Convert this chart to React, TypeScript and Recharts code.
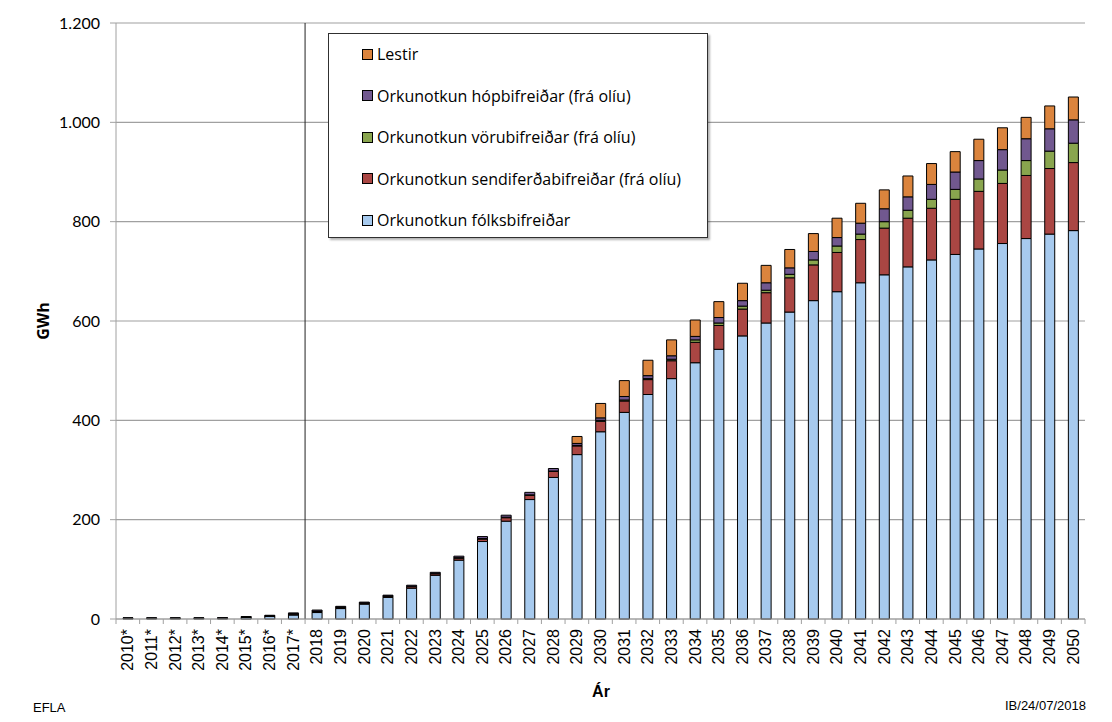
import { BarChart, Bar, XAxis, YAxis, CartesianGrid, ReferenceLine } from 'recharts';

// Ár (years); the starred ones are historical
const years = [
  '2010*', '2011*', '2012*', '2013*', '2014*', '2015*', '2016*', '2017*',
  '2018', '2019', '2020', '2021', '2022', '2023', '2024', '2025', '2026', '2027', '2028', '2029',
  '2030', '2031', '2032', '2033', '2034', '2035', '2036', '2037', '2038', '2039', '2040',
  '2041', '2042', '2043', '2044', '2045', '2046', '2047', '2048', '2049', '2050',
];

// GWh per series
const folksbifreidar = [
  1, 1, 1, 1, 1.2, 3, 5, 8,
  13, 21, 30, 43.5, 62, 88, 118.5, 156, 197, 240.5, 285, 331,
  377, 416, 452, 484, 516, 543, 570, 596, 618, 641, 659,
  677, 693, 709, 723, 734, 745, 756, 766, 775, 782,
];
const sendiferdabifreidar = [
  0.5, 0.5, 0.5, 0.5, 0.5, 0.8, 1, 2,
  2, 2, 2, 2.5, 3, 3, 4, 5, 7, 8.5, 12, 17.5,
  21, 23, 30, 36, 41, 48, 54, 61, 69, 72, 79,
  87, 94, 98, 104, 111, 116, 121, 127, 132, 137,
];
const vorubifreidar = [
  0.3, 0.3, 0.3, 0.3, 0.3, 0.4, 0.5, 0.8,
  1, 1, 0.5, 0.5, 1, 1, 1, 1, 1, 1, 1, 1,
  2, 2, 2, 3, 5, 5, 6, 5, 7, 10, 13,
  11, 13, 16, 18, 20, 25, 27, 30, 35, 39,
];
const hopbifreidar = [
  0.5, 0.5, 0.5, 0.5, 0.5, 0.8, 1, 1.5,
  2, 1.5, 1.5, 1.5, 2, 2, 3, 4, 4, 5, 5, 4,
  5, 7, 6, 7, 7, 11, 11, 15, 13, 17, 17,
  22, 26, 27, 30, 35, 37, 41, 44, 45, 47,
];
const lestir = [
  0, 0, 0, 0, 0, 0, 0, 0,
  0, 0, 0, 0, 0, 0, 0, 0, 0, 0, 0, 14,
  29, 32, 31, 32, 33, 32, 35, 35, 37, 36, 39,
  40, 38, 42, 42, 41, 43, 44, 43, 46, 46,
];

const yTicks = [0, 200, 400, 600, 800, 1000, 1200];

// bottom to top
const series = [
  { key: 'folks', name: 'Orkunotkun fólksbifreiðar', color: '#a7caee' },
  { key: 'sendi', name: 'Orkunotkun sendiferðabifreiðar (frá olíu)', color: '#aa4643' },
  { key: 'voru', name: 'Orkunotkun vörubifreiðar (frá olíu)', color: '#89a54e' },
  { key: 'hop', name: 'Orkunotkun hópbifreiðar (frá olíu)', color: '#71588f' },
  { key: 'lestir', name: 'Lestir', color: '#db843d' },
];

const data = years.map((year, i) => ({
  year,
  folks: folksbifreidar[i],
  sendi: sendiferdabifreidar[i],
  voru: vorubifreidar[i],
  hop: hopbifreidar[i],
  lestir: lestir[i],
}));

const fmt = (v: number) => v.toLocaleString('de-DE');

const XTick = (props: any) => {
  const { x, y, payload, index } = props;
  const half = payload.offset || 969 / 41 / 2;
  return (
    <g>
      <line x1={x - half} x2={x - half} y1={y} y2={y + 5} stroke="#a0a0a0" />
      {index === years.length - 1 && (
        <line x1={x + half} x2={x + half} y1={y} y2={y + 5} stroke="#a0a0a0" />
      )}
      <text
        x={x}
        y={y + 10}
        transform={`rotate(-90, ${x}, ${y + 10})`}
        textAnchor="end"
        dominantBaseline="central"
        fontFamily="'Liberation Sans', Arial, sans-serif"
        fontSize={16}
        fill="#000"
      >
        {payload.value}
      </text>
    </g>
  );
};

export default function App() {
  return (
    <div style={{ position: 'relative', margin: -8, width: 1112, height: 722, background: '#fff', overflow: 'hidden' }}>
      <div style={{ position: 'absolute', left: 6, top: 5, width: 1200, height: 800, border: '2px solid #000' }} />
      <BarChart
        width={1112}
        height={722}
        data={data}
        margin={{ top: 23, right: 27, bottom: 0, left: 0 }}
        barSize={10}
        style={{ position: 'absolute', left: 0, top: 0 }}
      >
        <CartesianGrid vertical={false} stroke="#a0a0a0" strokeWidth={1.2} />
        <XAxis
          dataKey="year"
          height={103}
          interval={0}
          tickSize={0}
          tickMargin={0}
          tickLine={false}
          stroke="#a0a0a0"
          tick={<XTick />}
        />
        <YAxis
          width={116}
          domain={[0, 1200]}
          ticks={yTicks}
          tickFormatter={fmt}
          tickSize={6}
          tickMargin={10}
          stroke="#a0a0a0"
          tick={{ fill: '#000', fontSize: 16, fontFamily: 'Lato, sans-serif' }}
        />
        {series.map((s) => (
          <Bar
            key={s.key}
            dataKey={s.key}
            name={s.name}
            stackId="a"
            fill={s.color}
            stroke="#000"
            strokeWidth={1}
            isAnimationActive={false}
          />
        ))}
        <ReferenceLine x="2018" position="start" stroke="#222" strokeWidth={1} />
      </BarChart>

      <div
        style={{
          position: 'absolute', left: 328, top: 33, width: 378, height: 203,
          border: '1px solid #303030', background: '#fff', boxShadow: '2px 2px 2px rgba(0,0,0,0.3)',
          fontFamily: "'Open Sans', sans-serif", fontSize: 16, color: '#000',
        }}
      >
        {[...series].reverse().map((s, i) => (
          <div key={s.key} style={{ position: 'absolute', left: 33, top: 10 + i * 41.5, height: 20, display: 'flex', alignItems: 'center' }}>
            <span style={{ display: 'inline-block', width: 9, height: 9, background: s.color, border: '1px solid #000', marginRight: 4 }} />
            <span>{s.name}</span>
          </div>
        ))}
      </div>

      <div style={{ position: 'absolute', left: 43, top: 321, transform: 'translate(-50%, -50%) rotate(-90deg)', fontFamily: "'Open Sans', sans-serif", fontWeight: 'bold', fontSize: 16 }}>
        GWh
      </div>
      <div style={{ position: 'absolute', left: 601, top: 692, transform: 'translate(-50%, -50%)', fontFamily: "'Liberation Sans', Arial, sans-serif", fontWeight: 'bold', fontSize: 16 }}>
        Ár
      </div>
      <div style={{ position: 'absolute', left: 33, top: 700, fontFamily: "'Liberation Sans', Arial, sans-serif", fontSize: 13 }}>
        EFLA
      </div>
      <div style={{ position: 'absolute', left: 1005, top: 698, fontFamily: "'Liberation Sans', Arial, sans-serif", fontSize: 13 }}>
        IB/24/07/2018
      </div>
    </div>
  );
}
